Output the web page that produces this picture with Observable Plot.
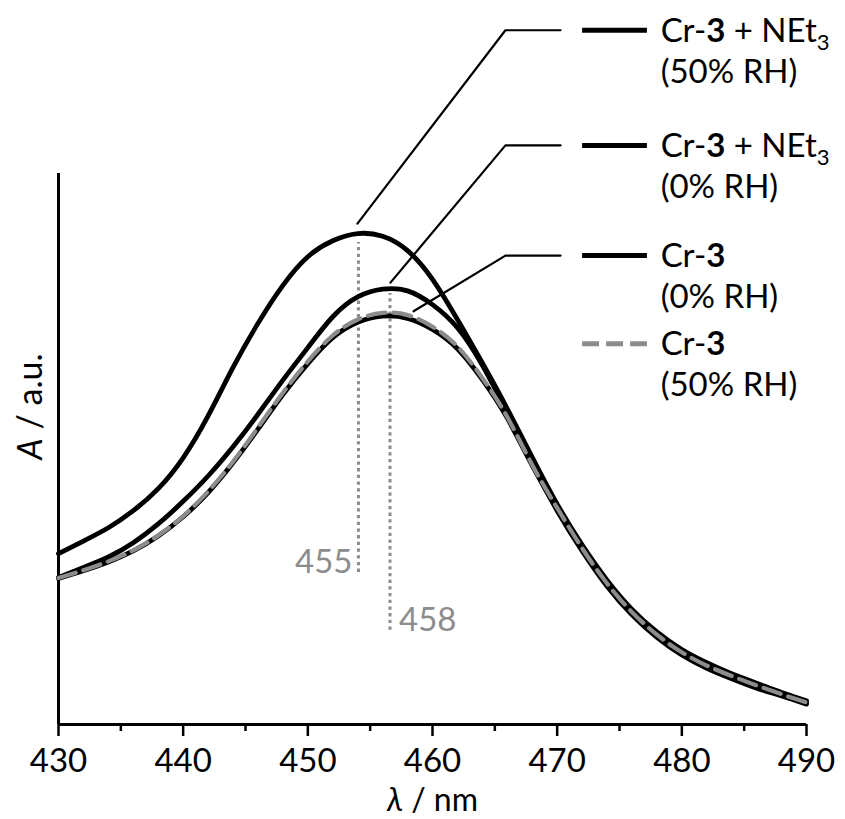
<!DOCTYPE html>
<html>
<head>
<meta charset="utf-8">
<script src="https://cdn.jsdelivr.net/npm/d3@7"></script>
<script src="https://cdn.jsdelivr.net/npm/@observablehq/plot@0.6"></script>
<style>
  html, body { margin: 0; padding: 0; background: #fff; }
  #chart svg { font-family: Lato, "Open Sans", "DejaVu Sans", sans-serif; }
</style>
</head>
<body>
<div id="chart"></div>
<script>
// ---------- data ----------
const wavelength = [430,432,434,436,438,440,442,444,446,448,450,452,454,456,458,460,462,464,466,468,470,472,474,476,478,480,482,484,486,488,490];

// Cr-3 + NEt3 (50% RH)
const netHumid = [0.310,0.333,0.357,0.388,0.428,0.484,0.560,0.648,0.728,0.797,0.849,0.878,0.891,0.886,0.860,0.808,0.735,0.656,0.573,0.485,0.400,0.326,0.262,0.209,0.168,0.136,0.112,0.092,0.075,0.058,0.043];
// Cr-3 + NEt3 (0% RH)
const netDry = [0.267,0.285,0.304,0.330,0.364,0.405,0.451,0.504,0.563,0.625,0.684,0.740,0.776,0.790,0.787,0.762,0.720,0.652,0.565,0.472,0.388,0.315,0.251,0.199,0.158,0.126,0.102,0.083,0.066,0.052,0.037];
// Cr-3 (0% RH)
const crDry = [0.265,0.279,0.295,0.315,0.342,0.377,0.421,0.475,0.536,0.599,0.655,0.702,0.730,0.741,0.737,0.717,0.682,0.626,0.556,0.470,0.393,0.320,0.256,0.204,0.163,0.131,0.107,0.088,0.071,0.055,0.040];
// Cr-3 (50% RH)
const crHumid = [0.266,0.280,0.296,0.316,0.343,0.378,0.423,0.477,0.539,0.602,0.659,0.706,0.735,0.747,0.743,0.722,0.686,0.629,0.558,0.471,0.393,0.320,0.256,0.204,0.163,0.131,0.107,0.088,0.071,0.055,0.040];

const seriesKeys = ["netHumid", "netDry", "crDry", "crHumid"];
const legendLine1 = ["Cr-3 + NEt3", "Cr-3 + NEt3", "Cr-3", "Cr-3"];
const legendLine2 = ["(50% RH)", "(0% RH)", "(0% RH)", "(50% RH)"];

const majorTicks = [430, 440, 450, 460, 470, 480, 490];
const minorTicks = [435, 445, 455, 465, 475, 485];

// peak markers
const peakWl = [454.06, 456.59];
const peakTop = [0.875, 0.782];
const peakBottom = [0.276, 0.171];
const peakLabels = ["455", "458"];

// annotation anchors (data units)
const legendY = [1.260, 1.051, 0.851, 0.691];
const leaderWl = [453.98, 456.63, 458.48];
const leaderA = [0.909, 0.802, 0.750];
const elbowWl = 465.85, leaderEndWl = 470.27;
const sampleWl1 = 472.0, sampleWl2 = 477.2, legendTextWl = 478.3;
const yLabelA = 0.577;

// ---------- tables ----------
const valuesByKey = {netHumid, netDry, crDry, crHumid};
const rows = seriesKeys.flatMap(k => wavelength.map((w, i) => ({key: k, wl: w, A: valuesByKey[k][i]})));
const blackRows = rows.filter(d => d.key !== "crHumid");
const grayRows = rows.filter(d => d.key === "crHumid");

const peaks = peakWl.map((w, i) => ({wl: w, top: peakTop[i], bottom: peakBottom[i], label: peakLabels[i]}));

const leaders = leaderWl.flatMap((w, i) => [
  {id: i, wl: w, A: leaderA[i]},
  {id: i, wl: elbowWl, A: legendY[i]},
  {id: i, wl: leaderEndWl, A: legendY[i]}
]);

const legend = legendLine1.map((t, i) => ({line1: t, line2: legendLine2[i], y: legendY[i], key: seriesKeys[i]}));

const gray = "#8c8c8c";

const chart = Plot.plot({
  width: 845,
  height: 819,
  marginLeft: 58,
  marginRight: 39,
  marginTop: 173,
  marginBottom: 95,
  style: {fontFamily: "Lato, 'Open Sans', sans-serif", background: "#fff", color: "#000"},
  x: {domain: [430, 490]},
  y: {domain: [0, 1], axis: null},
  marks: [
    // peak dotted lines
    Plot.ruleX(peaks, {x: "wl", y1: "bottom", y2: "top", stroke: gray, strokeWidth: 3, strokeDasharray: "3.3,3.4"}),
    Plot.text(peaks.slice(0, 1), {x: "wl", y: "bottom", text: "label", textAnchor: "end", lineAnchor: "bottom", dx: -6, dy: 1, fill: gray, fontSize: 33}),
    Plot.text(peaks.slice(1), {x: "wl", y: "bottom", text: "label", textAnchor: "start", lineAnchor: "bottom", dx: 9, dy: 1, fill: gray, fontSize: 33}),
    // axes
    Plot.axisX({ticks: majorTicks, tickSize: 12, tickPadding: 12, strokeWidth: 2.5, fontSize: 33, tickFormat: d => String(d), label: null}),
    Plot.axisX({ticks: minorTicks, tickSize: 7, strokeWidth: 2.5, tickFormat: () => "", label: null}),
    Plot.ruleY([0], {strokeWidth: 3}),
    Plot.ruleX([430], {y1: 0, y2: 1, strokeWidth: 3}),
    // spectra
    Plot.line(blackRows, {x: "wl", y: "A", z: "key", stroke: "#000", strokeWidth: 4.8, curve: "natural"}),
    Plot.line(grayRows, {x: "wl", y: "A", z: "key", stroke: gray, strokeWidth: 4.2, strokeDasharray: "18,8", curve: "natural"}),
    // leader lines
    Plot.line(leaders, {x: "wl", y: "A", z: "id", stroke: "#000", strokeWidth: 2.2}),
    // legend samples
    Plot.link(legend.filter(d => d.key !== "crHumid"), {x1: () => sampleWl1, x2: () => sampleWl2, y1: "y", y2: "y", stroke: "#000", strokeWidth: 5}),
    Plot.link(legend.filter(d => d.key === "crHumid"), {x1: () => sampleWl1, x2: () => sampleWl2, y1: "y", y2: "y", stroke: gray, strokeWidth: 5, strokeDasharray: "17,7"}),
    Plot.text(legend, {x: () => legendTextWl, y: "y", text: "line1", textAnchor: "start", lineAnchor: "middle", dy: 1, fontSize: 33}),
    Plot.text(legend, {x: () => legendTextWl, y: "y", text: "line2", textAnchor: "start", lineAnchor: "middle", dy: 42, fontSize: 33}),
    // axis titles
    Plot.text(["A / a.u."], {x: () => 430, y: () => yLabelA, text: d => d, rotate: -90, dx: -27, textAnchor: "middle", lineAnchor: "middle", fontSize: 34}),
    Plot.text(["λ / nm"], {frameAnchor: "bottom", text: d => d, textAnchor: "middle", lineAnchor: "bottom", dy: 86, fontSize: 32})
  ]
});

// rich text: bold compound number, subscript, italic symbols
const NS = "http://www.w3.org/2000/svg";
chart.querySelectorAll("text").forEach(t => {
  if (t.querySelector("tspan")) return;
  const s = t.textContent;
  let parts = null;
  if (s === "Cr-3 + NEt3") parts = [["Cr-"], ["3", {"font-weight": "bold"}], [" + NEt"], ["3", {"font-size": "22px", "dy": "8"}]];
  else if (s === "Cr-3") parts = [["Cr-"], ["3", {"font-weight": "bold"}]];
  else if (s === "A / a.u.") parts = [["A", {"font-style": "italic"}], [" / a.u."]];
  else if (s === "λ / nm") parts = [["λ", {"font-style": "italic"}], [" / nm"]];
  if (!parts) return;
  t.textContent = "";
  for (const [str, attrs] of parts) {
    const ts = document.createElementNS(NS, "tspan");
    ts.textContent = str;
    if (attrs) for (const k in attrs) ts.setAttribute(k, attrs[k]);
    t.appendChild(ts);
  }
});

document.getElementById("chart").appendChild(chart);
</script>
</body>
</html>
